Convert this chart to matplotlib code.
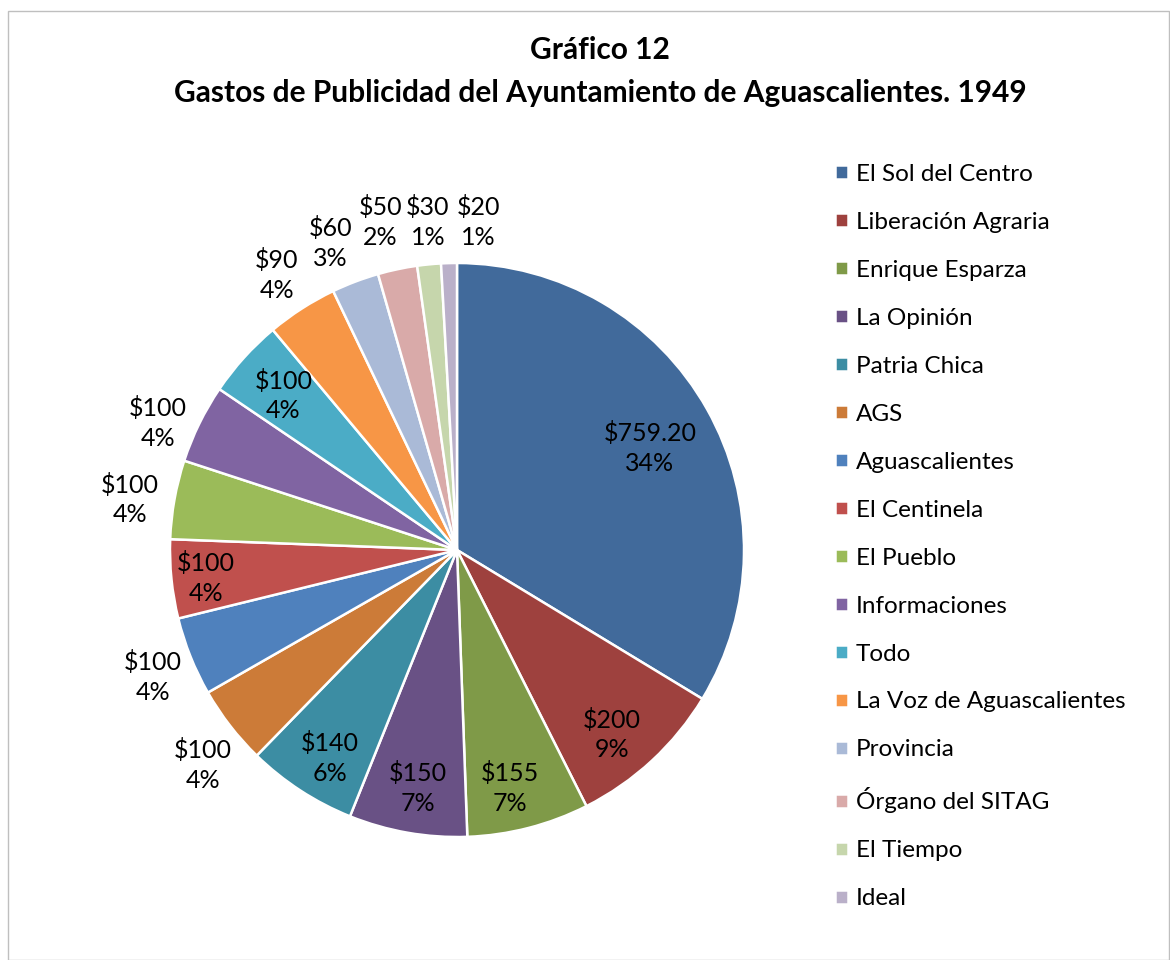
import matplotlib
matplotlib.use("Agg")
import matplotlib.pyplot as plt
from matplotlib.patches import Rectangle
import numpy as np

categories = ["El Sol del Centro", "Liberación Agraria", "Enrique Esparza", "La Opinión",
              "Patria Chica", "AGS", "Aguascalientes", "El Centinela", "El Pueblo",
              "Informaciones", "Todo", "La Voz de Aguascalientes", "Provincia",
              "Órgano del SITAG", "El Tiempo", "Ideal"]
values = [759.20, 200, 155, 150, 140, 100, 100, 100, 100, 100, 100, 90, 60, 50, 30, 20]
value_labels = ["$759.20", "$200", "$155", "$150", "$140", "$100", "$100", "$100", "$100",
                "$100", "$100", "$90", "$60", "$50", "$30", "$20"]
colors = ["#416A9B", "#9E413E", "#7F9A48", "#695185", "#3C8DA3", "#CC7B38", "#4F81BD",
          "#C0504D", "#9BBB59", "#8064A2", "#4BACC6", "#F79646", "#AABAD7", "#D9AAA9",
          "#C6D6AC", "#BAB0C9"]
# label placement (radius factor, angular nudge in degrees)
label_r = [0.76, 0.84, 0.85, 0.84, 0.85, 1.16, 1.148, 0.88, 1.153, 1.132, 0.81, 1.145,
           1.157, 1.174, 1.147, 1.145]
label_nudge = [-1.5, -2.7, -1.8, 0.6, 1.7, 2.45, 0.9, 0.5, 1.4, 3.1, 0.4, 0.5, 1.7, 1.2,
               -0.5, -5.3]

plt.rcParams['font.family'] = ['Lato', 'DejaVu Sans']

W, H = 1170, 960
fig = plt.figure(figsize=(W / 100, H / 100), dpi=100)

# chart frame
fig.patches.append(Rectangle((8 / W, 0), (W - 9) / W, (H - 11) / H, transform=fig.transFigure,
                             fill=False, edgecolor="#BFBFBF", linewidth=1.0))

cx, cy, R = 457, 550, 287
lim = 1.2
side = 2 * R * lim
ax = fig.add_axes([(cx - side / 2) / W, ((H - cy) - side / 2) / H, side / W, side / H])

wedges, _ = ax.pie(values, colors=colors, startangle=90, counterclock=False, radius=1.0,
                   wedgeprops=dict(edgecolor="white", linewidth=1.8))
ax.set_xlim(-lim, lim)
ax.set_ylim(-lim, lim)
ax.set_aspect("equal")
ax.axis("off")

total = sum(values)
cum = 0.0
for i, v in enumerate(values):
    mid = cum + v / 2
    cum += v
    ang = np.deg2rad(90 - 360 * mid / total + label_nudge[i])
    r = label_r[i]
    pct = f"{round(100 * v / total):.0f}%"
    ax.text(r * np.cos(ang), r * np.sin(ang), f"{value_labels[i]}\n{pct}",
            ha="center", va="center", fontsize=18, color="black", linespacing=1.35)

fig.legend(wedges, categories, loc="upper left", bbox_to_anchor=(825 / W, 1 - 154 / H),
           frameon=False, fontsize=17.5, handlelength=0.54, handleheight=0.54,
           handletextpad=0.33, labelspacing=1.11, borderaxespad=0)

fig.text(600 / W, 1 - 50 / H, "Gráfico 12", ha="center", va="center",
         fontsize=21.5, fontweight="bold")
fig.text(600 / W, 1 - 93 / H, "Gastos de Publicidad del Ayuntamiento de Aguascalientes. 1949",
         ha="center", va="center", fontsize=21.5, fontweight="bold")

fig.savefig("out.png", dpi=100, facecolor="white")
